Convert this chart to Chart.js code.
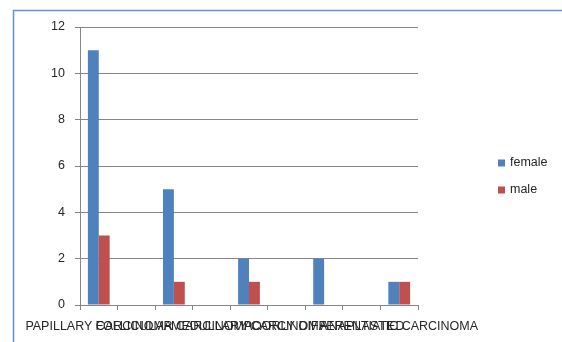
<!DOCTYPE html>
<html>
<head>
<meta charset="utf-8">
<script src="https://cdn.jsdelivr.net/npm/chart.js@4.4.1/dist/chart.umd.min.js"></script>
<style>
html,body{margin:0;padding:0;background:#fff;}
#wrap{position:absolute;left:0;top:0;width:562px;height:342px;}
</style>
</head>
<body>
<div id="wrap"><canvas id="c" width="562" height="342"></canvas></div>
<script>
const categories = ["PAPILLARY CARCINOMA", "", "FOLLICULAR CARCINOMA", "", "MEDULLARY CARCINOMA", "", "POORLY DIFFERENTIATED", "", "ANAPLASTIC CARCINOMA"];
const femaleValues = [11, null, 5, null, 2, null, 2, null, 1];
const maleValues = [3, null, 1, null, 1, null, 0, null, 1];
const yTicks = [0, 2, 4, 6, 8, 10, 12];
const seriesNames = ["female", "male"];
const seriesColors = ["#4F81BD", "#C0504D"];

const FONT = "'Liberation Sans', Arial, sans-serif";

const framePlugin = {
  id: 'frame',
  afterDraw(chart) {
    const ctx = chart.ctx;
    ctx.save();
    ctx.strokeStyle = '#6291D4';
    ctx.lineWidth = 1.5;
    ctx.beginPath();
    ctx.moveTo(13.5, 342);
    ctx.lineTo(13.5, 10.5);
    ctx.lineTo(562, 10.5);
    ctx.stroke();
    ctx.restore();
  }
};

const legendPlugin = {
  id: 'sideLegend',
  afterDraw(chart) {
    const ctx = chart.ctx;
    ctx.save();
    ctx.font = '12.5px ' + FONT;
    ctx.textBaseline = 'middle';
    ctx.textAlign = 'left';
    chart.data.datasets.forEach((ds, i) => {
      const y = 163 + i * 27;
      ctx.fillStyle = ds.backgroundColor;
      ctx.fillRect(498, y - 3.5, 7, 7);
      ctx.fillStyle = '#262626';
      ctx.fillText(ds.label, 510, y);
    });
    ctx.restore();
  }
};

new Chart(document.getElementById('c'), {
  type: 'bar',
  data: {
    labels: categories,
    datasets: [
      { label: seriesNames[0], data: femaleValues, backgroundColor: seriesColors[0] },
      { label: seriesNames[1], data: maleValues, backgroundColor: seriesColors[1] }
    ]
  },
  options: {
    responsive: false,
    animation: false,
    devicePixelRatio: 1,
    layout: { padding: { left: 0, right: 144, top: 27, bottom: 0 } },
    datasets: { bar: { categoryPercentage: 0.58, barPercentage: 1.0 } },
    plugins: { legend: { display: false }, tooltip: { enabled: false }, title: { display: false } },
    scales: {
      x: {
        offset: true,
        afterFit(scale) { scale.height = 37; },
        grid: { offset: true, drawOnChartArea: false, drawTicks: true, tickLength: 5, color: '#868686', lineWidth: 1 },
        border: { display: true, color: '#868686' },
        ticks: { autoSkip: false, maxRotation: 0, minRotation: 0, padding: 9, color: '#262626', font: { family: FONT, size: 12.5 } }
      },
      y: {
        min: 0, max: 12,
        afterFit(scale) { scale.width = 80; },
        afterBuildTicks(scale) { scale.ticks = yTicks.map(v => ({ value: v })); },
        grid: { color: '#868686', tickLength: 5, lineWidth: 1 },
        border: { display: true, color: '#868686' },
        ticks: { padding: 10, color: '#262626', font: { family: FONT, size: 12.5 } }
      }
    }
  },
  plugins: [framePlugin, legendPlugin]
});
</script>
</body>
</html>
